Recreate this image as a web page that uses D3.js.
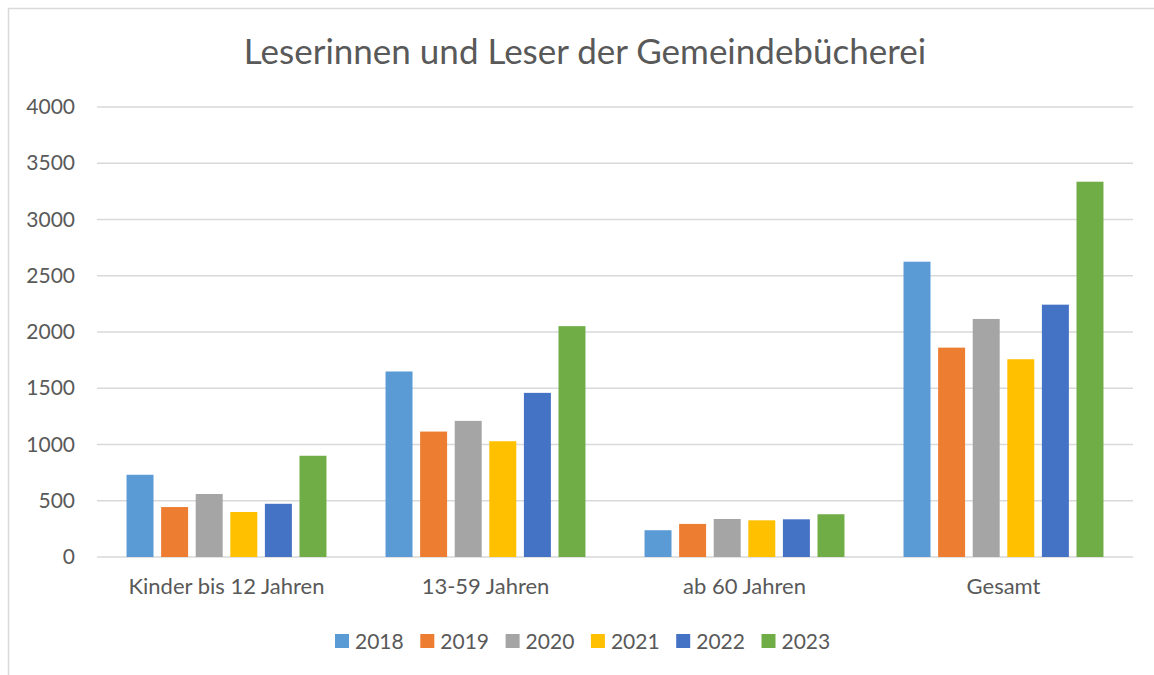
<!DOCTYPE html>
<html>
<head>
<meta charset="utf-8">
<script src="https://cdn.jsdelivr.net/npm/d3@7"></script>
<style>
  body { margin: 0; background: #fff; }
  text { font-family: Lato, "Open Sans", sans-serif; fill: #595959; }
</style>
</head>
<body>
<div id="chart-area"></div>
<script>
// data
const categories = ["Kinder bis 12 Jahren", "13-59 Jahren", "ab 60 Jahren", "Gesamt"];
const years = ["2018", "2019", "2020", "2021", "2022", "2023"];
const v2018 = [731, 1649, 238, 2625];
const v2019 = [444, 1115, 294, 1861];
const v2020 = [560, 1210, 338, 2116];
const v2021 = [400, 1029, 326, 1758];
const v2022 = [473, 1459, 335, 2243];
const v2023 = [900, 2052, 380, 3336];
const yTicks = [0, 500, 1000, 1500, 2000, 2500, 3000, 3500, 4000];
const colors = ["#5B9BD5", "#ED7D31", "#A5A5A5", "#FFC000", "#4472C4", "#70AD47"];

const series = [v2018, v2019, v2020, v2021, v2022, v2023];

const W = 1154, H = 675;
const plot = { left: 97, right: 1133, top: 107, bottom: 557 };

const svg = d3.select("#chart-area").append("svg")
	.attr("width", W)
	.attr("height", H);

// chart frame (only left and top edges visible in the crop)
svg.append("path")
	.attr("d", `M8.5,${H} V8.5 H${W}`)
	.attr("fill", "none")
	.attr("stroke", "#d9d9d9")
	.attr("stroke-width", 1.5);

// title
svg.append("text")
	.attr("x", 585)
	.attr("y", 64)
	.attr("text-anchor", "middle")
	.attr("font-size", "35px")
	.text("Leserinnen und Leser der Gemeindebücherei");

const x0 = d3.scaleBand()
	.domain(categories)
	.range([plot.left, plot.right])
	.paddingInner(0.228)
	.paddingOuter(0.114);

const x1 = d3.scaleBand()
	.domain(years)
	.range([0, x0.bandwidth()])
	.paddingInner(0.22);

const y = d3.scaleLinear()
	.domain([0, 4000])
	.range([plot.bottom, plot.top]);

// gridlines
svg.append("g")
	.selectAll("line")
	.data(yTicks)
	.enter()
	.append("line")
	.attr("x1", plot.left)
	.attr("x2", plot.right)
	.attr("y1", d => y(d))
	.attr("y2", d => y(d))
	.attr("stroke", "#d9d9d9")
	.attr("stroke-width", 1.5);

// y axis labels
const yAxis = d3.axisLeft(y).tickValues(yTicks).tickFormat(d3.format("d")).tickSize(0).tickPadding(0);
svg.append("g")
	.attr("transform", "translate(75, 0)")
	.call(yAxis)
	.call(g => g.select(".domain").remove())
	.selectAll("text")
	.attr("font-size", "21px")
	.attr("font-family", "Lato, 'Open Sans', sans-serif")
	.attr("fill", "#595959");

// x axis labels
const xAxis = d3.axisBottom(x0).tickSize(0).tickPadding(0);
svg.append("g")
	.attr("transform", `translate(0, ${plot.bottom + 21})`)
	.call(xAxis)
	.call(g => g.select(".domain").remove())
	.selectAll("text")
	.attr("font-size", "22px")
	.attr("font-family", "Lato, 'Open Sans', sans-serif")
	.attr("fill", "#595959");

// bars
const groups = svg.append("g")
	.selectAll("g")
	.data(series)
	.enter()
	.append("g")
	.attr("fill", (d, i) => colors[i]);

groups.selectAll("rect")
	.data((d, i) => d.map((v, j) => ({ cat: categories[j], year: years[i], value: v })))
	.enter()
	.append("rect")
	.attr("x", d => x0(d.cat) + x1(d.year))
	.attr("y", d => y(d.value))
	.attr("width", x1.bandwidth())
	.attr("height", d => y(0) - y(d.value));

// legend
const legendStep = 85.3;
const legend = svg.append("g")
	.attr("transform", "translate(335, 634)");

const items = legend.selectAll("g")
	.data(years)
	.enter()
	.append("g")
	.attr("transform", (d, i) => `translate(${i * legendStep}, 0)`);

items.append("rect")
	.attr("width", 14)
	.attr("height", 14)
	.attr("fill", (d, i) => colors[i]);

items.append("text")
	.attr("x", 20)
	.attr("y", 14.5)
	.attr("font-size", "21px")
	.text(d => d);
</script>
</body>
</html>
